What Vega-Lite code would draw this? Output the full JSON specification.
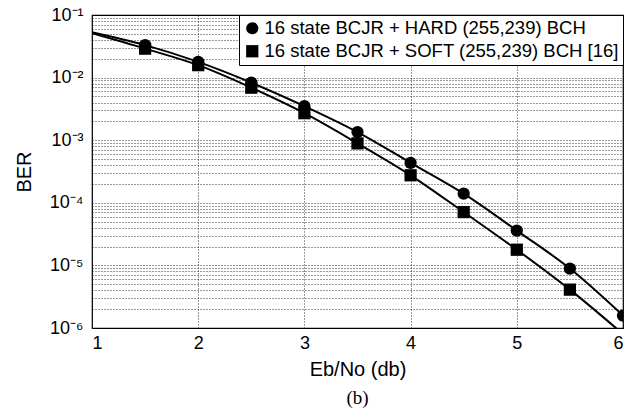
{
  "$schema": "https://vega.github.io/schema/vega-lite/v6.json",
  "width": 531,
  "height": 313,
  "autosize": {"type": "none"},
  "padding": {"left": 92, "top": 15, "right": 19, "bottom": 87},
  "background": "white",
  "title": {"text": "(b)", "orient": "bottom", "font": "Liberation Serif", "fontSize": 19, "fontWeight": "normal", "color": "black", "offset": 10, "anchor": "middle"},
  "config": {
    "view": {"stroke": "black", "strokeWidth": 1.2},
    "font": "Liberation Sans"
  },
  "data": {
    "values": [
      {"ebno": 1.0, "ber": 0.053, "series": "16 state BCJR + HARD (255,239) BCH", "marker": 0},
      {"ebno": 1.5, "ber": 0.033, "series": "16 state BCJR + HARD (255,239) BCH", "marker": 1},
      {"ebno": 2.0, "ber": 0.0178, "series": "16 state BCJR + HARD (255,239) BCH", "marker": 1},
      {"ebno": 2.5, "ber": 0.0083, "series": "16 state BCJR + HARD (255,239) BCH", "marker": 1},
      {"ebno": 3.0, "ber": 0.0035, "series": "16 state BCJR + HARD (255,239) BCH", "marker": 1},
      {"ebno": 3.5, "ber": 0.00135, "series": "16 state BCJR + HARD (255,239) BCH", "marker": 1},
      {"ebno": 4.0, "ber": 0.000435, "series": "16 state BCJR + HARD (255,239) BCH", "marker": 1},
      {"ebno": 4.5, "ber": 0.00014, "series": "16 state BCJR + HARD (255,239) BCH", "marker": 1},
      {"ebno": 5.0, "ber": 0.000036, "series": "16 state BCJR + HARD (255,239) BCH", "marker": 1},
      {"ebno": 5.5, "ber": 0.0000089, "series": "16 state BCJR + HARD (255,239) BCH", "marker": 1},
      {"ebno": 6.0, "ber": 0.00000158, "series": "16 state BCJR + HARD (255,239) BCH", "marker": 1},
      {"ebno": 1.0, "ber": 0.051, "series": "16 state BCJR + SOFT (255,239) BCH [16]", "marker": 0},
      {"ebno": 1.5, "ber": 0.029, "series": "16 state BCJR + SOFT (255,239) BCH [16]", "marker": 1},
      {"ebno": 2.0, "ber": 0.0158, "series": "16 state BCJR + SOFT (255,239) BCH [16]", "marker": 1},
      {"ebno": 2.5, "ber": 0.0069, "series": "16 state BCJR + SOFT (255,239) BCH [16]", "marker": 1},
      {"ebno": 3.0, "ber": 0.0027, "series": "16 state BCJR + SOFT (255,239) BCH [16]", "marker": 1},
      {"ebno": 3.5, "ber": 0.00089, "series": "16 state BCJR + SOFT (255,239) BCH [16]", "marker": 1},
      {"ebno": 4.0, "ber": 0.000275, "series": "16 state BCJR + SOFT (255,239) BCH [16]", "marker": 1},
      {"ebno": 4.5, "ber": 0.000071, "series": "16 state BCJR + SOFT (255,239) BCH [16]", "marker": 1},
      {"ebno": 5.0, "ber": 0.0000178, "series": "16 state BCJR + SOFT (255,239) BCH [16]", "marker": 1},
      {"ebno": 5.5, "ber": 0.0000041, "series": "16 state BCJR + SOFT (255,239) BCH [16]", "marker": 1},
      {"ebno": 6.0, "ber": 0.0000008, "series": "16 state BCJR + SOFT (255,239) BCH [16]", "marker": 0}
    ]
  },
  "encoding": {
    "x": {
      "field": "ebno", "type": "quantitative",
      "scale": {"domain": [1, 6], "nice": false, "zero": false},
      "axis": {
        "title": "Eb/No (db)", "values": [1, 2, 3, 4, 5, 6], "format": "d",
        "grid": true, "gridDash": [1, 2], "gridColor": "black", "gridOpacity": 0.8, "gridWidth": 1,
        "ticks": false, "domain": false, "labelPadding": 6,
        "labelFontSize": 18, "labelColor": "black", "labelFont": "Liberation Sans",
        "titleFontSize": 20, "titleFontWeight": "normal", "titleColor": "black", "titleFont": "Liberation Sans", "titlePadding": 7
      }
    },
    "y": {
      "field": "ber", "type": "quantitative",
      "scale": {"type": "log", "domain": [0.000001, 0.1], "nice": false},
      "axis": {
        "title": "BER",
        "values": [0.000001, 0.000002, 0.000003, 0.000004, 0.000005, 0.000006, 0.000007, 0.000008, 0.000009,
                   0.00001, 0.00002, 0.00003, 0.00004, 0.00005, 0.00006, 0.00007, 0.00008, 0.00009,
                   0.0001, 0.0002, 0.0003, 0.0004, 0.0005, 0.0006, 0.0007, 0.0008, 0.0009,
                   0.001, 0.002, 0.003, 0.004, 0.005, 0.006, 0.007, 0.008, 0.009,
                   0.01, 0.02, 0.03, 0.04, 0.05, 0.06, 0.07, 0.08, 0.09, 0.1],
        "labelExpr": "abs(log(datum.value)/LN10 - round(log(datum.value)/LN10)) > 0.001 ? '' : ['10⁻⁶','10⁻⁵','10⁻⁴','10⁻³','10⁻²','10⁻¹'][round(log(datum.value)/LN10)+6]",
        "labelOverlap": false, "labelBound": false, "labelFlush": false,
        "grid": true, "gridDash": [1, 2], "gridColor": "black", "gridOpacity": 0.8, "gridWidth": 1,
        "ticks": false, "domain": false, "labelPadding": 9,
        "labelFontSize": 18, "labelColor": "black", "labelFont": "Liberation Sans",
        "titleFontSize": 20, "titleFontWeight": "normal", "titleColor": "black", "titleFont": "Liberation Sans", "titlePadding": 15
      }
    }
  },
  "layer": [
    {
      "mark": {"type": "line", "color": "black", "strokeWidth": 2, "interpolate": "monotone", "clip": true},
      "encoding": {"detail": {"field": "series"}}
    },
    {
      "transform": [{"filter": "datum.marker == 1"}],
      "mark": {"type": "point", "filled": true, "color": "black", "opacity": 1, "size": 150, "clip": true},
      "encoding": {
        "shape": {
          "field": "series", "type": "nominal",
          "scale": {"domain": ["16 state BCJR + HARD (255,239) BCH", "16 state BCJR + SOFT (255,239) BCH [16]"], "range": ["circle", "square"]},
          "legend": {
            "title": null, "orient": "top-right", "offset": 0,
            "fillColor": "white", "strokeColor": "black", "padding": 4,
            "labelFontSize": 18.5, "labelColor": "black", "labelFont": "Liberation Sans", "labelLimit": 500,
            "symbolFillColor": "black", "symbolStrokeColor": "black", "symbolSize": 150, "symbolOpacity": 1,
            "rowPadding": 4, "labelOffset": 3
          }
        }
      }
    }
  ]
}
